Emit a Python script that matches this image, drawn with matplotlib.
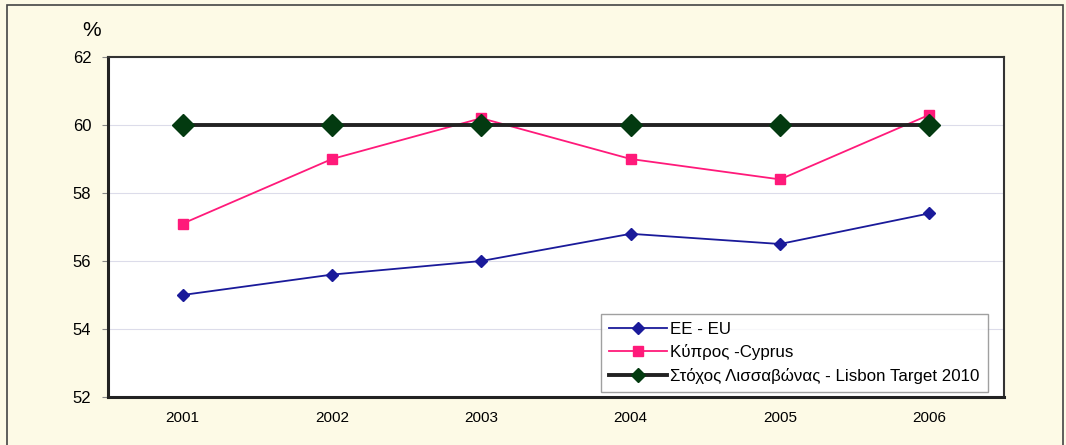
import matplotlib
matplotlib.use("Agg")
import matplotlib.pyplot as plt
from matplotlib.patches import Rectangle

years = ["2001", "2002", "2003", "2004", "2005", "2006"]
eu = [55.0, 55.6, 56.0, 56.8, 56.5, 57.4]
cyprus = [57.1, 59.0, 60.2, 59.0, 58.4, 60.3]
target = [60, 60, 60, 60, 60, 60]
labels = ["ΕΕ - EU", "Κύπρος -Cyprus", "Στόχος Λισσαβώνας - Lisbon Target 2010"]
yticks = [52, 54, 56, 58, 60, 62]

plt.rcParams['font.family'] = ['Liberation Sans', 'DejaVu Sans']

W, H = 1066, 445
fig = plt.figure(figsize=(W/100, H/100), dpi=100)
bg = '#FDFAE6'
fig.patch.set_facecolor(bg)
# outer frame
fig.patches.append(Rectangle((7/W, -0.05), (1063-7)/W, (H-5)/H + 0.05, transform=fig.transFigure,
                             fill=False, edgecolor='#444444', linewidth=1.2))

ax = fig.add_axes([108/W, 1-397/H, (1004-108)/W, (397-57)/H])
ax.set_facecolor('white')
x = list(range(len(years)))

ax.plot(x, eu, color='#1A1A9A', marker='D', markersize=6, linewidth=1.3, label=labels[0], zorder=3)
ax.plot(x, cyprus, color='#FF1A7A', marker='s', markersize=7, linewidth=1.3, label=labels[1], zorder=3)
ax.plot(x, target, color='#222222', marker='D', markersize=11, markerfacecolor='#033A10',
        markeredgecolor='#033A10', linewidth=2.8, label=labels[2], zorder=4)

ax.set_xlim(-0.5, len(years)-0.5)
ax.set_ylim(52, 62)
ax.set_yticks(yticks)
ax.set_yticklabels([str(v) for v in yticks], fontsize=12)
ax.set_xticks(x)
ax.set_xticklabels(years, fontsize=11)
ax.tick_params(axis='x', length=0, pad=10)
ax.tick_params(axis='y', length=4, direction='out', color='#888888', pad=8)
ax.grid(axis='y', color='#DCDCEA', linewidth=0.8)
ax.set_axisbelow(True)
for s in ['left', 'bottom']:
    ax.spines[s].set_linewidth(2.2)
    ax.spines[s].set_color('#222222')
for s in ['top', 'right']:
    ax.spines[s].set_linewidth(1.5)
    ax.spines[s].set_color('#333333')

fig.text(92/W, 1-30/H, '%', fontsize=15, ha='center', va='center')

leg = ax.legend(loc='lower right', bbox_to_anchor=((988-108)/(1004-108), (397-392)/(397-57)),
                borderaxespad=0, fontsize=12.2, frameon=True, fancybox=False, edgecolor='#888888',
                handlelength=3.4, handletextpad=0.2, borderpad=0.5, labelspacing=0.42)
leg.get_frame().set_linewidth(1.0)
for ln, ms in zip(leg.get_lines(), [6, 7, 7]):
    ln.set_markersize(ms)

fig.savefig('out.png', dpi=100, facecolor=fig.get_facecolor())
